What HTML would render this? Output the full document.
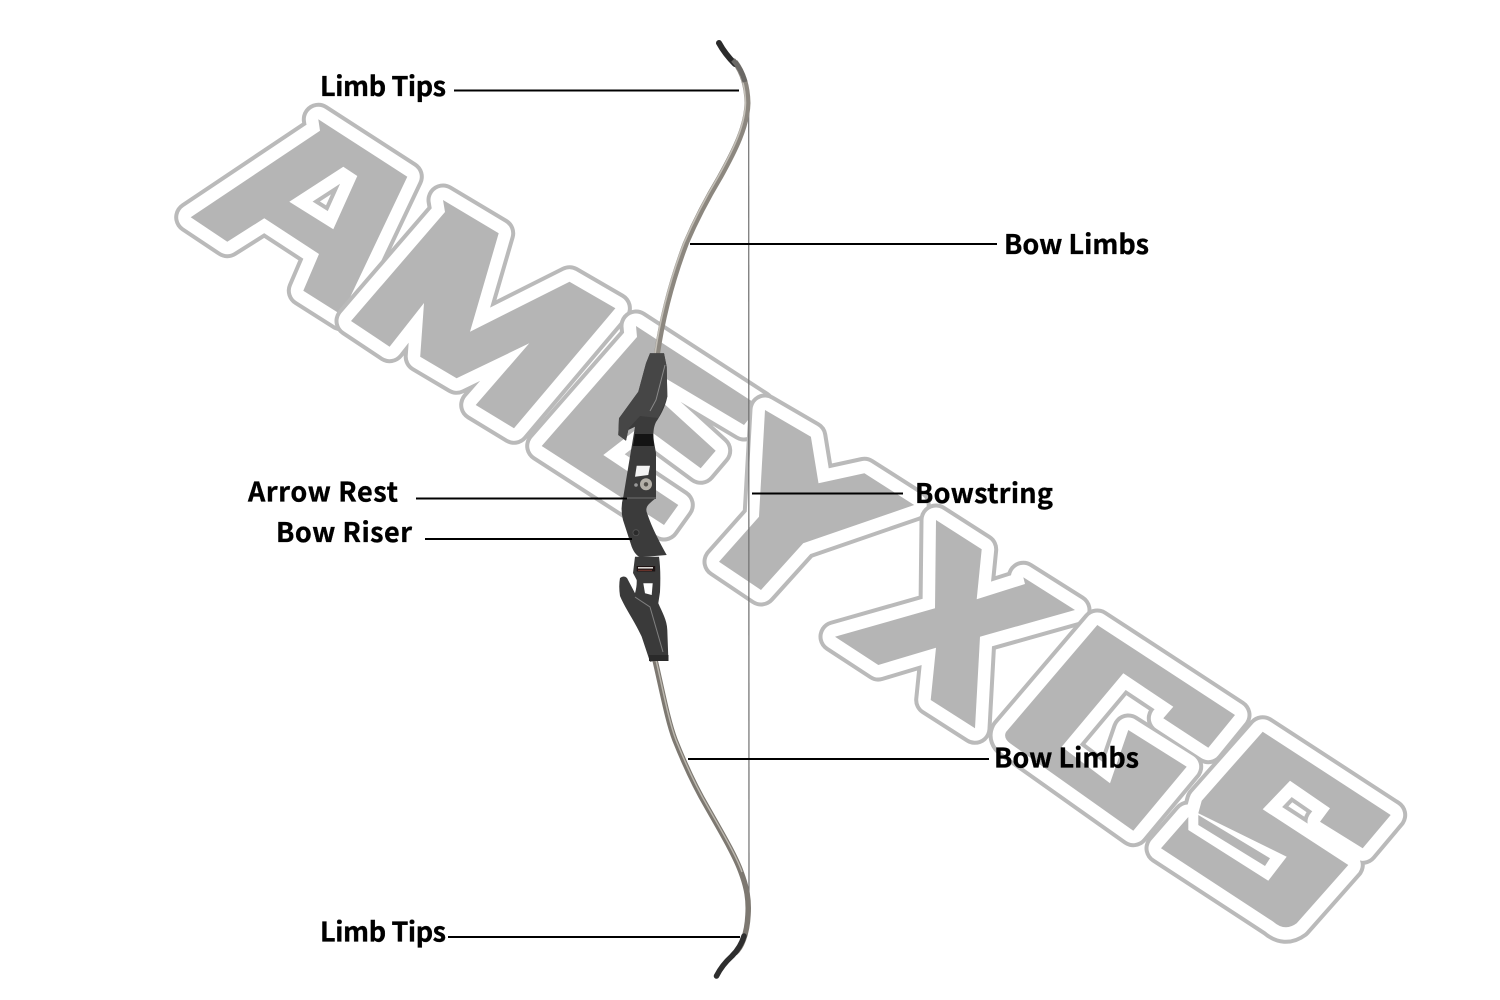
<!DOCTYPE html>
<html><head><meta charset="utf-8"><style>
html,body{margin:0;padding:0;background:#fff}
svg{display:block}
.o{fill:none;stroke:#bababa;stroke-width:33;stroke-linejoin:round}
.w{fill:none;stroke:#fff;stroke-width:25;stroke-linejoin:round}
.f{fill:#b5b5b5;fill-rule:evenodd;stroke:none}
text{font-family:"Noto Sans CJK SC","Liberation Sans",sans-serif;font-weight:700;font-size:27px;fill:#000;stroke:#000;stroke-width:.35}
</style></head><body>
<svg width="1500" height="1000" viewBox="0 0 1500 1000" xmlns="http://www.w3.org/2000/svg">
<defs>
<path id="A" d="M318.3,119.3L407.3,176.7L341.7,315L303.3,290.7L319,254L264.3,218.3L227.3,241.7L190.7,217.3L320,130.7ZM343.3,166.7L357.3,176L333.3,229.3L289.3,201.7Z"/>
<path id="M" d="M445,212L443,200L498.7,233.3L470,331.7L569.5,281.7L615.4,308.3L514,428.3L475.7,405L529.3,343.3L456.6,378.3L420.2,356.7L424,303L389.6,346.7L351,321Z"/>
<path id="E" d="M636,326L759.3,406L744,425L665,378L660,400L715.7,450.7L700.7,468.3L642,425L603.3,455L678.3,505L664,525L541.7,446L637,337Z"/>
<path id="Y" d="M765,410L810.9,436.7L818.5,483.3L864.4,473.3L914.2,505L803.2,543.3L761,590L719,561.7L759,516.7Z"/>
<path id="X" d="M936,520L981.7,549.3L976.7,599.3L1025,584L1023.3,577.3L1075,610L980,636.7L975,728.3L930.7,700L936,647.7L878.3,665L835,636.7L935,608.3Z"/>
<path id="G" d="M1097.3,625L1235,715L1208.3,747.7L1163.3,718.3L1173.3,706.7L1123.3,673.3L1061.7,746.7L1110,783.3L1128.3,730L1186.7,766.7L1133.3,830.7L1010,743.3Q1003,738 1006,732Z"/>
<path id="S" d="M1262.7,731.7L1390.7,815L1362.7,848.3L1320,821.7L1330,808.3L1290,780.7L1262.7,809.3L1348.3,865L1296.7,923.3Q1285,932 1273.3,921.7L1161,848.3L1188.3,817L1188.3,830L1268.3,880.7L1286.7,856.7L1198.3,813.3L1201.7,800.7Z"/>
</defs>
<rect width="1500" height="1000" fill="#fff"/>
<use href="#A" class="o"/><use href="#A" class="w"/><use href="#A" class="f"/>
<use href="#M" class="o"/><use href="#M" class="w"/><use href="#M" class="f"/>
<use href="#E" class="o"/><use href="#E" class="w"/><use href="#E" class="f"/>
<use href="#Y" class="o"/><use href="#Y" class="w"/><use href="#Y" class="f"/>
<use href="#X" class="o"/><use href="#X" class="w"/><use href="#X" class="f"/>
<use href="#G" class="o"/><use href="#G" class="w"/><use href="#G" class="f"/>
<use href="#S" class="o"/><use href="#S" class="w"/><use href="#S" class="f"/>
<path d="M1198.3,815L1270,858.3L1265,866L1198.3,825Z" fill="#b5b5b5"/>

<!-- string -->
<line x1="748.7" y1="105" x2="749" y2="905" stroke="#6e6e6e" stroke-width="1.2"/>

<!-- upper limb -->
<path d="M735,62Q747,78 747.5,103C747,126 735,150 720,177C705,202 695,222 686,243C675,272 663,312 657,354" fill="none" stroke="#8c877f" stroke-width="6"/>
<path d="M736,66Q745,80 745.5,103C745,126 733,150 718,177C703,202 693,222 684,243C673,272 661,312 655,354" fill="none" stroke="#c4c0b8" stroke-width="1.6"/>
<path d="M719,43Q725,54 735,64" fill="none" stroke="#2b2b2b" stroke-width="6" stroke-linecap="round"/>
<path d="M733,60Q741,68 745,82" fill="none" stroke="#6a6865" stroke-width="5"/>

<!-- lower limb -->
<path d="M655,660C662,690 668,722 675,740C685,765 697,790 707,807C720,830 735,855 741,872C747,888 749,900 748,915C747,935 741,948 735,953" fill="none" stroke="#7d7871" stroke-width="5.5"/>
<path d="M656,660C663,690 669,722 676,740C686,765 698,790 708,807C721,830 736,855 742,872" fill="none" stroke="#bdb9b0" stroke-width="1.4"/>
<path d="M744,936C742,943 738,950 732,956Q722,965 716.5,976" fill="none" stroke="#2e2e2e" stroke-width="5.5" stroke-linecap="round"/>

<!-- riser upper -->
<path d="M650,353.3L664,353.3L666.7,366.7L667.3,396.7C665,408 660,416 656,422C653,428 653,436 654,442L656,453L656,498Q652,501 649,504Q645,508 647,513C652,528 660,543 666.7,555L640,557.3Q635,555 631.7,546.7L623,520Q620,508 623.3,496.7L633.3,436.7L635,426.7L628.3,430Q627,436 626,440.7L618.3,435L619,418.3L638.3,391.7L646,363.3Z" fill="#3b3b3b"/>
<path d="M650,353.3L664,353.3L666.7,366.7L667.3,396.7L658.3,418L640,416L629,428L628.3,430L626,440.7L618.3,435L619,418.3L638.3,391.7L646,363.3Z" fill="#464646"/>
<path d="M635,434H653L654,446H633Z" fill="#141414"/>
<path d="M665,365L656,400L650,411" fill="none" stroke="#8a8a8a" stroke-width="1"/>
<path d="M636.7,465.7L650,465.7L648.3,475L635,476.7Z" fill="#f4f4f4"/>
<circle cx="646" cy="484.3" r="6" fill="#b4b0a8"/><circle cx="646" cy="484.3" r="2.2" fill="#55524c"/>
<circle cx="636" cy="485" r="1.8" fill="#999"/>
<path d="M623,498H656" stroke="#555" stroke-width="2"/>
<circle cx="636" cy="532.7" r="3" fill="#2b2b2b" stroke="#555" stroke-width=".8"/>

<!-- riser grip joint -->
<path d="M635,556.7H659Q661,570 660,592L658.3,603.3C662,612 667,620 667.3,630L668.3,658.3L650,661.7L641.7,636.7C635,622 625,608 620,596Q618.5,586 620,578Q624,575 627,578L635,593.3Q637,586 636.7,580L633,573Z" fill="#3a3a3a"/>
<rect x="636.7" y="566" width="18.5" height="5.5" fill="#1d1212"/>
<rect x="638" y="567" width="15" height="1.6" fill="#d8d4d0"/>
<rect x="638" y="569.8" width="14" height="1" fill="#7a3a30"/>
<path d="M643.3,583.3L652.7,583.3L651.7,595L645,593.3Z" fill="#fff"/>
<path d="M635,597L650,607L663,652" fill="none" stroke="#808080" stroke-width="1"/>
<rect x="649" y="655" width="19.5" height="6" fill="#2a2a2a"/>

<!-- connector lines -->
<g stroke="#000" stroke-width="2">
<line x1="454" y1="90.5" x2="739" y2="90.5"/>
<line x1="690" y1="244" x2="997" y2="244"/>
<line x1="752" y1="493.5" x2="903" y2="493.5"/>
<line x1="416" y1="498.5" x2="627" y2="498.5"/>
<line x1="425" y1="539" x2="632" y2="539"/>
<line x1="688" y1="759" x2="989" y2="759"/>
<line x1="448" y1="937" x2="740" y2="937"/>
</g>

<!-- labels -->
<text x="320" y="96" textLength="126" lengthAdjust="spacing">Limb Tips</text>
<text x="1004" y="254" textLength="145" lengthAdjust="spacing">Bow Limbs</text>
<text x="248" y="501.5" textLength="150" lengthAdjust="spacing">Arrow Rest</text>
<text x="276" y="542" textLength="136" lengthAdjust="spacing">Bow Riser</text>
<text x="915" y="503" textLength="138" lengthAdjust="spacing">Bowstring</text>
<text x="994" y="767.5" textLength="145" lengthAdjust="spacing">Bow Limbs</text>
<text x="320" y="941.5" textLength="126" lengthAdjust="spacing">Limb Tips</text>
</svg>
</body></html>
